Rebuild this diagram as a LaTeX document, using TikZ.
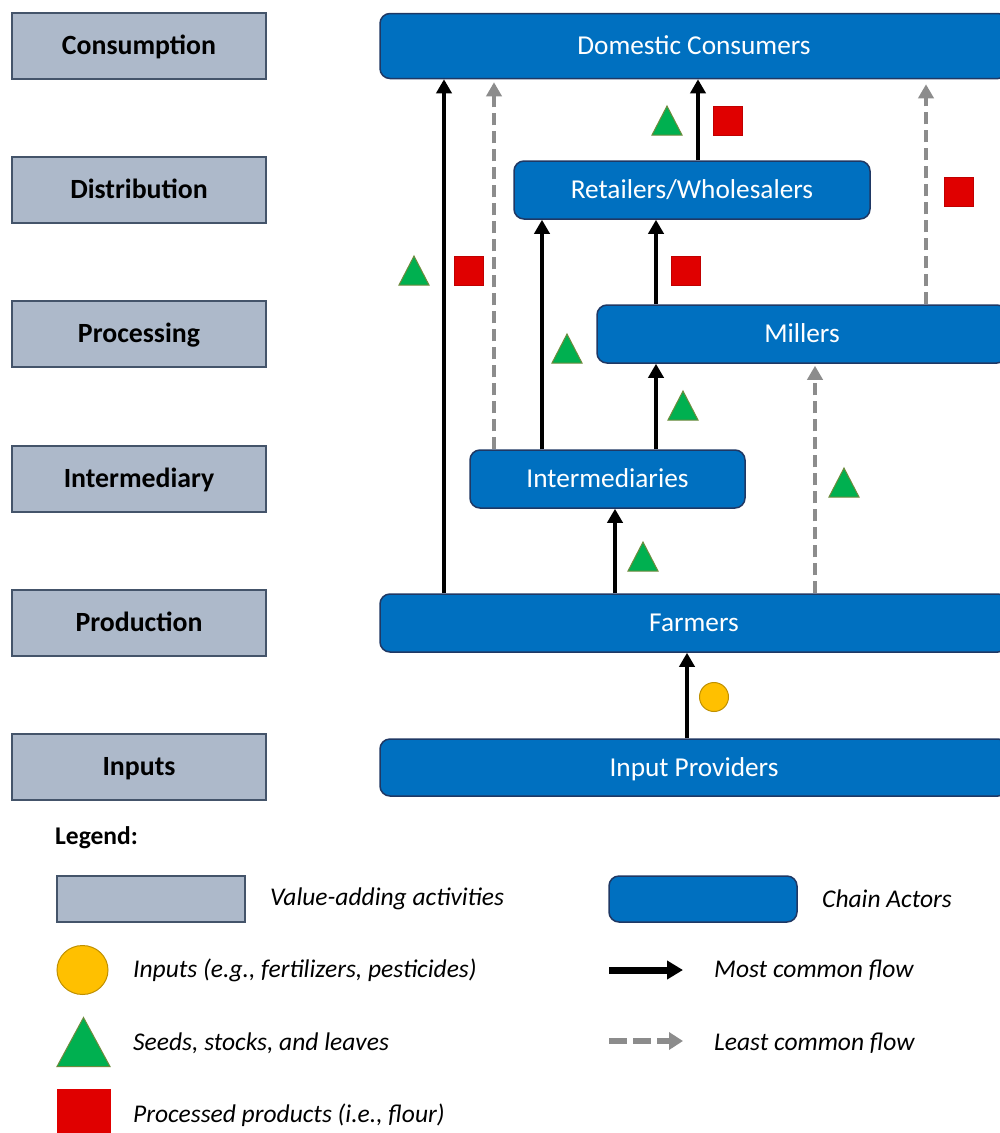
\documentclass[tikz,border=0pt]{standalone}
\usepackage{fontspec}
\setmainfont{Carlito}
\usetikzlibrary{arrows.meta}
\definecolor{actorblue}{HTML}{0070C0}
\definecolor{actorline}{HTML}{1F3864}
\definecolor{actfill}{HTML}{ADB9CA}
\definecolor{actline}{HTML}{44546A}
\definecolor{seedgreen}{HTML}{00B050}
\definecolor{seedline}{HTML}{6E8B3D}
\definecolor{flourred}{HTML}{E00000}
\definecolor{flourline}{HTML}{C00000}
\definecolor{inputgold}{HTML}{FFC000}
\definecolor{inputline}{HTML}{BF9000}
\definecolor{lessgray}{HTML}{8C8C8C}
\newcommand\seedtri[4]{\filldraw[seedfill] (#1-#3/2,#2+#4/2) -- (#1,#2-#4/2) -- (#1+#3/2,#2+#4/2) -- cycle;}
\newcommand\floursq[4]{\filldraw[flourfill] (#1-#3/2,#2-#4/2) rectangle (#1+#3/2,#2+#4/2);}
\begin{document}
\begin{tikzpicture}[x=1pt,y=-1pt,
  activity/.style={draw=actline, line width=1.5pt, fill=actfill, minimum width=254pt, minimum height=66pt, inner sep=0pt, text height=17.9pt, text depth=0pt, font=\fontsize{27.8}{32}\selectfont\bfseries},
  actor/.style={draw=actorline, line width=1.5pt, fill=actorblue, rounded corners=10pt, inner sep=0pt, text height=17.6pt, text depth=0pt, text=white, font=\fontsize{27.3}{32}\selectfont},
  flow/.style={line width=4pt, black, -{Triangle[width=15pt,length=14pt]}},
  less/.style={line width=4pt, lessgray, dash pattern=on 12pt off 6pt, -{Triangle[width=15pt,length=14pt]}},
  seedfill/.style={fill=seedgreen, draw=seedline, line width=1pt},
  flourfill/.style={fill=flourred, draw=flourline, line width=1pt},
  legtext/.style={anchor=west, inner sep=0pt, font=\fontsize{25.5}{30}\selectfont\itshape},
]
\clip (0,0) rectangle (1000,1133);
\fill[white] (0,0) rectangle (1000,1133);

% value-adding activities
\node[activity] (consumption) at (139,46) {Consumption};
\node[activity] (distribution) at (139,190) {Distribution};
\node[activity] (processing) at (139,334) {Processing};
\node[activity] (intermediary) at (139,479) {Intermediary};
\node[activity] (production) at (139,623) {Production};
\node[activity] (inputs) at (139,767) {Inputs};

% chain actors
\node[actor, minimum width=628pt, minimum height=65pt] (cons) at (694,46) {Domestic Consumers};
\node[actor, minimum width=356pt, minimum height=58pt] (ret) at (692,190) {Retailers/Wholesalers};
\node[actor, minimum width=410pt, minimum height=58pt] (mill) at (802,334) {Millers};
\node[actor, minimum width=275pt, minimum height=58pt] (inter) at (607.5,479) {Intermediaries};
\node[actor, minimum width=628pt, minimum height=58pt] (farm) at (694,623) {Farmers};
\node[actor, minimum width=628pt, minimum height=57pt] (inp) at (694,767.5) {Input Providers};

% x positions of the connectors
\coordinate (xa) at (444,0);
\coordinate (xb) at (494,0);
\coordinate (xc) at (542,0);
\coordinate (xd) at (656,0);
\coordinate (xe) at (698,0);
\coordinate (xf) at (926,0);
\coordinate (xg) at (615,0);
\coordinate (xh) at (815,0);
\coordinate (xi) at (687,0);

\draw[flow] (farm.north -| xa) -- (cons.south -| xa);
\draw[less] (inter.north -| xb) -- ([yshift=-3pt]cons.south -| xb);
\draw[flow] (inter.north -| xc) -- (ret.south -| xc);
\draw[flow] (inter.north -| xd) -- (mill.south -| xd);
\draw[flow] (mill.north -| xd) -- (ret.south -| xd);
\draw[flow] (ret.north -| xe) -- (cons.south -| xe);
\draw[less] (mill.north -| xf) -- ([yshift=-5pt]cons.south -| xf);
\draw[flow] (farm.north -| xg) -- (inter.south -| xg);
\draw[less] (farm.north -| xh) -- ([yshift=-2pt]mill.south -| xh);
\draw[flow] (inp.north -| xi) -- (farm.south -| xi);

% product markers
\seedtri{414}{270.5}{30}{29}
\floursq{469}{270.5}{29}{29}
\seedtri{667}{120.5}{30}{29}
\floursq{728}{120.5}{29}{29}
\floursq{959}{191.5}{29}{29}
\floursq{686}{270.5}{29}{29}
\seedtri{567}{348.5}{30}{29}
\seedtri{683}{405.5}{30}{29}
\seedtri{844}{482.5}{30}{29}
\seedtri{643}{556.5}{30}{29}
\filldraw[fill=inputgold, draw=inputline, line width=1pt] (714,697) circle (14.5);

% legend
\node[anchor=west, inner sep=0pt, font=\fontsize{25.5}{30}\selectfont\bfseries] (legtitle) at (55,838) {Legend:};
\node[draw=actline, line width=1.5pt, fill=actfill, minimum width=188pt, minimum height=46pt, inner sep=0pt] (legact) at (151,899) {};
\node[legtext] (legacttxt) at (270,899) {Value-adding activities};
\node[draw=actorline, line width=1.5pt, fill=actorblue, rounded corners=10pt, minimum width=188pt, minimum height=46pt, inner sep=0pt] (legactor) at (703,899) {};
\node[legtext] (legactortxt) at (822,899) {Chain Actors};
\filldraw[fill=inputgold, draw=inputline, line width=1pt] (82.5,970) ellipse (25.5 and 24.5);
\node[legtext] (leginp) at (133,970) {Inputs (e.g., fertilizers, pesticides)};
\seedtri{83.5}{1042}{53}{49}
\node[legtext] (legseed) at (133,1043) {Seeds, stocks, and leaves};
\filldraw[fill=flourred, draw=flourred] (57,1089) rectangle (110,1140);
\node[legtext] (legflour) at (133,1115) {Processed products (i.e., flour)};
\coordinate (lma) at (609,970);
\coordinate (lmb) at (683,970);
\draw[line width=7pt, black, -{Triangle[width=18pt,length=16pt]}] (lma) -- (lmb);
\node[legtext] (legmost) at (714,970) {Most common flow};
\coordinate (lla) at (609,1041);
\coordinate (llb) at (683,1041);
\draw[line width=6pt, lessgray, dash pattern=on 18pt off 6pt, -{Triangle[width=17pt,length=14pt]}] (lla) -- (llb);
\node[legtext] (legleast) at (714,1043) {Least common flow};
\end{tikzpicture}
\end{document}
